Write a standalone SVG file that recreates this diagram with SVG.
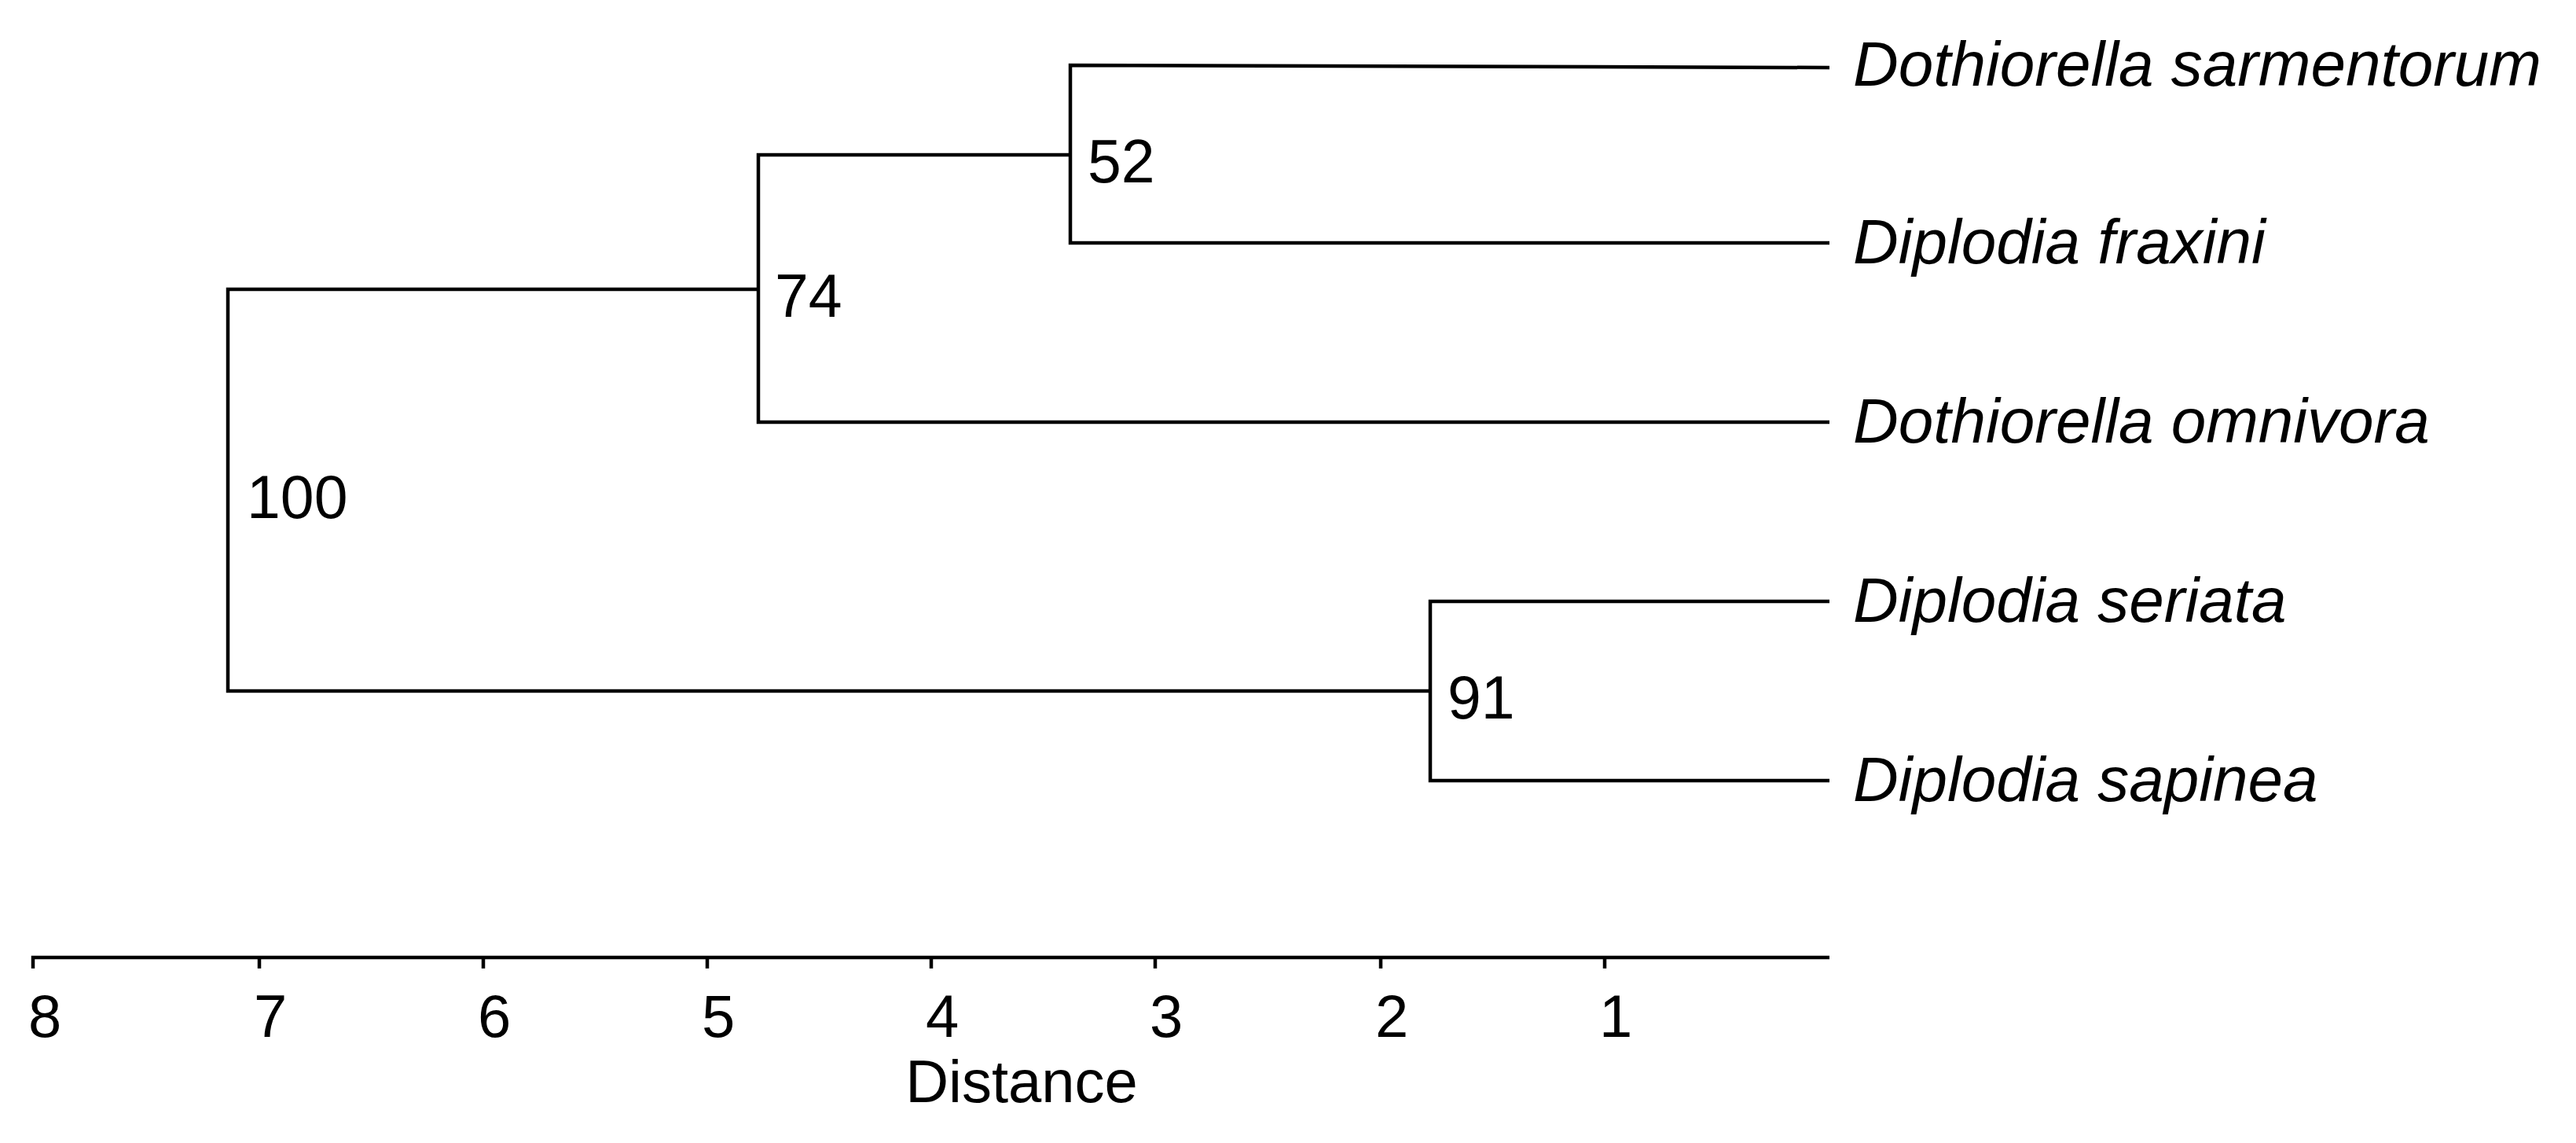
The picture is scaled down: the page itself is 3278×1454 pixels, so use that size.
<svg xmlns="http://www.w3.org/2000/svg" width="3278" height="1454" viewBox="0 0 3278 1454">
  <style>
    .br { fill: none; stroke: #000; stroke-width: 4.5; stroke-linejoin: miter; stroke-linecap: butt; }
    .num { font-family: "Liberation Sans", Arial, sans-serif; font-size: 77px; fill: #000; }
    .sp { font-family: "Liberation Sans", Arial, sans-serif; font-style: italic; font-size: 80px; fill: #000; }
    .ax { font-family: "Liberation Sans", Arial, sans-serif; font-size: 76px; fill: #000; }
  </style>
  <rect width="3278" height="1454" fill="#fff"/>

  <g id="connectors">
    <!-- clade 52 -->
    <path class="br" d="M2328,86 L1362,83 L1362,309 L2328,309"/>
    <!-- clade 74 -->
    <path class="br" d="M1362,197 L965,197 L965,537 L2328,537"/>
    <!-- clade 91 -->
    <path class="br" d="M2328,765 L1820,765 L1820,993 L2328,993"/>
    <!-- root 100 -->
    <path class="br" d="M965,368 L290,368 L290,879 L1820,879"/>
  </g>

  <g id="node-100"><text class="num" x="314" y="659">100</text></g>
  <g id="node-74"><text class="num" x="986" y="403">74</text></g>
  <g id="node-52"><text class="num" x="1384" y="232">52</text></g>
  <g id="node-91"><text class="num" x="1842" y="914">91</text></g>

  <g id="leaf-sarmentorum"><text class="sp" x="2358" y="109">Dothiorella sarmentorum</text></g>
  <g id="leaf-fraxini"><text class="sp" x="2358" y="335">Diplodia fraxini</text></g>
  <g id="leaf-omnivora"><text class="sp" x="2358" y="563">Dothiorella omnivora</text></g>
  <g id="leaf-seriata"><text class="sp" x="2358" y="791">Diplodia seriata</text></g>
  <g id="leaf-sapinea"><text class="sp" x="2358" y="1019">Diplodia sapinea</text></g>

  <g id="axis">
    <path class="br" d="M42,1232 L42,1218 L2328,1218"/>
    <path class="br" d="M330,1218 V1232 M615,1218 V1232 M900,1218 V1232 M1185,1218 V1232 M1470,1218 V1232 M1757,1218 V1232 M2042,1218 V1232"/>
    <text class="ax" x="36" y="1319">8</text>
    <text class="ax" x="323" y="1319">7</text>
    <text class="ax" x="608" y="1319">6</text>
    <text class="ax" x="893" y="1319">5</text>
    <text class="ax" x="1178" y="1319">4</text>
    <text class="ax" x="1463" y="1319">3</text>
    <text class="ax" x="1750" y="1319">2</text>
    <text class="ax" x="2035" y="1319">1</text>
    <text class="ax" x="1300" y="1402" text-anchor="middle">Distance</text>
  </g>
</svg>
